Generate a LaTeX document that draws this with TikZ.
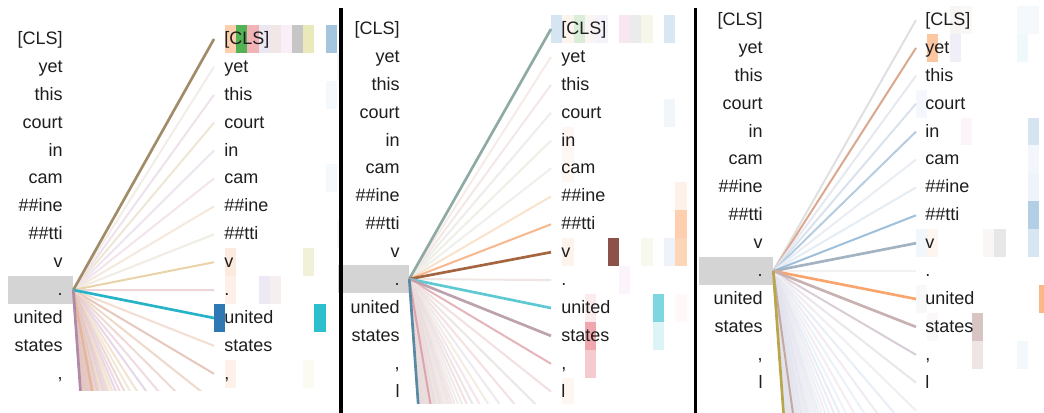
\documentclass[tikz,border=0pt]{standalone}
\usepackage{fontspec}
\setmainfont{Liberation Sans}
\usetikzlibrary{positioning}
\definecolor{VizInk}{HTML}{1E1E1E}
\definecolor{VizSel}{HTML}{D4D4D4}
% faint fan colours, one set per head view
\definecolor{P1f0}{HTML}{E7C3CF}
\definecolor{P1f1}{HTML}{D6BEDB}
\definecolor{P1f2}{HTML}{F0D0B6}
\definecolor{P1f3}{HTML}{EADCC0}
\definecolor{P1f4}{HTML}{E2C2BA}
\definecolor{P2f0}{HTML}{F0D6D8}
\definecolor{P2f1}{HTML}{E6E2EA}
\definecolor{P2f2}{HTML}{EEE6D8}
\definecolor{P2f3}{HTML}{F0DCE2}
\definecolor{P2f4}{HTML}{E2DEDC}
\definecolor{P3f0}{HTML}{D9E4F1}
\definecolor{P3f1}{HTML}{E8DEEA}
\definecolor{P3f2}{HTML}{E0EAF5}
\definecolor{P3f3}{HTML}{F0E2E6}
\definecolor{P3f4}{HTML}{E4ECF6}
\newcommand{\hexcol}[1]{\edef\hexdo{\noexpand\definecolor{hexc}{HTML}{#1}}\hexdo}

\begin{document}
\begin{tikzpicture}[
  x=0.75pt, y=-0.75pt,
  tok/.style={inner sep=0pt, font=\fontsize{13.5}{16}\selectfont, text=VizInk},
  lefttok/.style={tok, anchor=base east},
  righttok/.style={tok, anchor=base west},
  selbox/.style={fill=VizSel, inner sep=0pt, minimum width=#1, minimum height=21pt},
  attn/.style={line width=1.5pt, draw=#1},
  heavy/.style={line width=2pt, draw=#1},
  divider/.style={line width=2.5pt, draw=black}
]
\fill[white] (0,0) rectangle (1044,413);
\useasboundingbox (0,0) rectangle (1044,413);

% head view 1
\begin{scope}
  \clip (0,0) rectangle (340,390);
  \foreach \c/\r/\h in {0/10/2E78B4, 1/0/FDCFAE, 2/0/53B253, 3/0/F2B3B7, 4/0/EBE7F3, 5/0/F0E7E6,
      6/0/FBEFF7, 7/0/C6C6C6, 8/0/E9E9B9, 10/0/A3C5DE, 1/8/FDEADF, 8/8/F1F1DA, 1/9/FDF0E8,
      4/9/ECE9F5, 5/9/F6EFEF, 9/10/2CBFCC, 1/12/FDF1E9, 8/12/FBFBF2, 10/2/F6F9FC, 10/5/F6F9FC,
      11/1/F3F6FA, 11/7/F3F6FA}{
    \hexcol{\h}
    \fill[hexc] (214+11.15*\c,25+27.9*\r) rectangle ++(11.15,27.9);
  }
  \node[selbox=48.75pt] (p1sel) at (40.5,290) {};
  \foreach \k in {0,...,80} \coordinate (p1e\k) at (214,39+27.9*\k);
  \foreach \k [evaluate=\k as \m using {int(mod(\k,5))}] in {14,...,79}
    \draw[attn=P1f\m, draw opacity=0.6] (p1sel.east) -- (p1e\k);
  \foreach \k/\h in {1/F3EDE8, 2/EEE2EC, 3/EFE7D6, 4/EDE5EF, 5/F3E5EB, 6/F5E9DE, 7/F1ECE4,
      8/EAD3A8, 9/EFD5D8, 11/F2DED3, 12/E6C8BC, 13/EFD9CB, 36/E6B496}{
    \hexcol{\h}
    \draw[attn=hexc] (p1sel.east) -- (p1e\k);
  }
  \foreach \k/\h in {0/A08C68, 10/27B3C7, 80/B08AA6}{
    \hexcol{\h}
    \draw[heavy=hexc] (p1sel.east) -- (p1e\k);
  }
  \foreach \t [count=\k from 0] in {{[CLS]},yet,this,court,in,cam,\#\#ine,\#\#tti,v,{.},united,states,{,}}{
    \node[lefttok] (p1l\k) at (63,44.5+27.9*\k) {\t};
    \node[righttok] (p1r\k) at (224,44.5+27.9*\k) {\t};
  }
\end{scope}

% head view 2
\begin{scope}
  \clip (336,0) rectangle (695,403);
  \foreach \c/\r/\h in {0/0/D5E5F1, 1/0/FDF4EE, 2/0/D9EDD9, 3/0/FBF4F4, 4/0/F5F3FA, 6/0/FAE5F3,
      7/0/EBEBEB, 8/0/F6F7E8, 10/0/D8E7F2, 10/3/F1F6FB, 1/4/FDF6F2, 1/5/FDF8F4, 11/6/FDF1EA,
      11/7/FDCFAE, 11/8/FDD6B8, 1/8/FDF2EC, 5/8/8C524A, 8/8/F8F9EE, 10/8/EDF3F8, 6/9/FCF4FA,
      3/10/FCEBEC, 9/10/7ED7E0, 11/10/FEF8F8, 3/11/EFA6AD, 9/11/DDF4F7, 3/12/F5CBD0, 1/13/FDF6F1}{
    \hexcol{\h}
    \fill[hexc] (551+11.3*\c,15+27.9*\r) rectangle ++(11.3,27.9);
  }
  \node[selbox=53.25pt] (p2sel) at (373.5,279) {};
  \foreach \k in {0,...,80} \coordinate (p2e\k) at (551,29+27.9*\k);
  \foreach \k [evaluate=\k as \m using {int(mod(\k,5))}] in {14,...,79}
    \draw[attn=P2f\m, draw opacity=0.7] (p2sel.east) -- (p2e\k);
  \foreach \k/\h in {1/F6ECE7, 2/F4E7E7, 3/EDEDE9, 4/EFEFE5, 5/EFEFEB, 6/FAE3CC, 7/F7B88E,
      9/EFE6E4, 12/E4B6BC, 13/F4DFE1, 39/DEA3AC}{
    \hexcol{\h}
    \draw[attn=hexc] (p2sel.east) -- (p2e\k);
  }
  \foreach \k/\h in {0/8FAAA4, 8/A5653F, 10/5EC9D2, 11/BDA2AD, 80/5A89A4}{
    \hexcol{\h}
    \draw[heavy=hexc] (p2sel.east) -- (p2e\k);
  }
  \foreach \t [count=\k from 0] in {{[CLS]},yet,this,court,in,cam,\#\#ine,\#\#tti,v,{.},united,states,{,},l}{
    \node[lefttok] (p2l\k) at (400,34.5+27.9*\k) {\t};
    \node[righttok] (p2r\k) at (561,34.5+27.9*\k) {\t};
  }
\end{scope}

% head view 3
\begin{scope}
  \clip (697,0) rectangle (1044,413);
  \foreach \c/\r/\h in {3/0/F8F4F4, 4/0/FAF7F7, 9/0/F3F9FC, 10/0/F5F9FC, 1/1/FBC6A0, 3/1/F0EEF6,
      9/1/EFF8FB, 0/3/F4F7FB, 4/4/FBF5FA, 10/4/D5E4F0, 10/5/F3F7FB, 10/6/EEF4FA, 10/7/B3CFE5,
      0/8/F2F7FB, 1/8/FDF5F0, 6/8/FAF6F6, 7/8/E7E7E7, 10/8/D8E6F2, 11/10/FCB785, 0/10/F8F8F8,
      5/11/D9C4C4, 1/11/FAF8F8, 5/12/EFE5E5, 9/12/F2F8FC}{
    \hexcol{\h}
    \fill[hexc] (916+11.2*\c,6+27.9*\r) rectangle ++(11.2,27.9);
  }
  \node[selbox=55.5pt] (p3sel) at (736,271) {};
  \foreach \k in {0,...,80} \coordinate (p3e\k) at (916,20+27.9*\k);
  \foreach \k [evaluate=\k as \m using {int(mod(\k,5))}] in {15,...,79}
    \draw[attn=P3f\m, draw opacity=0.6] (p3sel.east) -- (p3e\k);
  \foreach \k/\h in {0/E0E0E0, 1/DBA88F, 2/E6E9EF, 3/D9E3EE, 4/B6CCE0, 5/E9EEF4, 6/E4ECF4,
      7/9FC0DA, 9/F2F2F2, 12/D9CDD7, 13/EBE6EC, 14/F0EEF2, 46/C3A9A0}{
    \hexcol{\h}
    \draw[attn=hexc] (p3sel.east) -- (p3e\k);
  }
  \foreach \k/\h in {8/A3B3C2, 10/F9A66E, 11/C7B1B1, 80/B9A64A}{
    \hexcol{\h}
    \draw[heavy=hexc] (p3sel.east) -- (p3e\k);
  }
  \foreach \t [count=\k from 0] in {{[CLS]},yet,this,court,in,cam,\#\#ine,\#\#tti,v,{.},united,states,{,},l,{.}}{
    \node[lefttok] (p3l\k) at (763,25.5+27.9*\k) {\t};
    \node[righttok] (p3r\k) at (925,25.5+27.9*\k) {\t};
  }
\end{scope}

% panel rules
\draw[divider] (341,8) -- (341,413);
\draw[divider] (695.5,8) -- (695.5,413);
\end{tikzpicture}
\end{document}
